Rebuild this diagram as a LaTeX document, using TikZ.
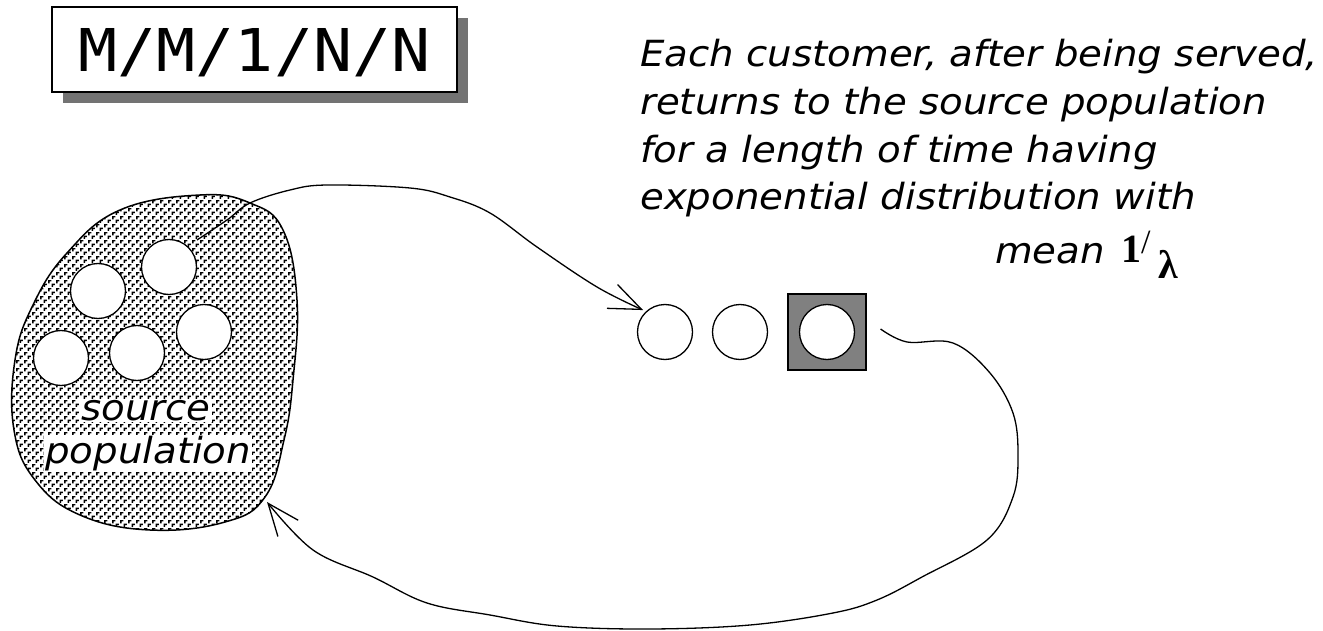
\documentclass[tikz,border=0pt]{standalone}
\usepackage{fontspec}
\setmainfont{DejaVu Sans}
\newfontfamily\dvs{DejaVu Sans}
\newfontfamily\dvm{DejaVu Sans Mono}
\newfontfamily\lser{Liberation Serif}
\usetikzlibrary{arrows.meta,patterns}
\pgfdeclarepatternformonly{blobmarks}{\pgfpointorigin}{\pgfqpoint{8pt}{8pt}}{\pgfqpoint{8pt}{8pt}}{%
  \pgfsetlinewidth{1.6pt}%
  \pgfpathmoveto{\pgfqpoint{1pt}{4.2pt}}\pgfpathlineto{\pgfqpoint{1pt}{7pt}}\pgfpathlineto{\pgfqpoint{3.8pt}{7pt}}%
  \pgfpathmoveto{\pgfqpoint{5pt}{0.2pt}}\pgfpathlineto{\pgfqpoint{5pt}{3pt}}\pgfpathlineto{\pgfqpoint{7.8pt}{3pt}}%
  \pgfusepath{stroke}}
\newcommand{\wide}[1]{\scalebox{1.075}[1]{#1}}
\begin{document}
\begin{tikzpicture}[x=1pt,y=-1pt,
  desc/.style={font=\dvs\itshape\fontsize{36}{36}\selectfont, anchor=base west, inner sep=0pt},
  cust/.style={circle, draw, line width=1.3pt, fill=white, minimum size=55pt, inner sep=0pt},
  flow/.style={line width=1.3pt, -{Straight Barb[length=32pt,width=26pt]}}]
\useasboundingbox (0,0) rectangle (1323,631);

% title box with shadow
\fill[black!55] (63,18) rectangle (468,103);
\node[draw, line width=2pt, fill=white, minimum width=405pt, minimum height=85pt, inner sep=0pt,
      text depth=0pt, font=\dvm\fontsize{59}{59}\selectfont] (title) at (254.5,50) {\scalebox{1.1}[1]{M/M/1/N/N}};

% source population blob
\draw[line width=1.5pt, pattern=blobmarks] plot[smooth cycle, tension=0.7] coordinates {
  (200,195) (250,203) (283,230) (297,300) (293,380) (284,440) (265,497) (225,522)
  (150,530) (80,515) (35,480) (14,430) (15,360) (33,305) (67,253) (120,210)};
\node[cust] (b1) at (98,291) {};
\node[cust] (b2) at (169,267) {};
\node[cust] (b3) at (204,332) {};
\node[cust] (b4) at (61,358) {};
\node[cust] (b5) at (137,353) {};
\node[desc, fill=white, inner sep=1pt] (src) at (80,420) {\wide{source}};
\node[desc, fill=white, inner sep=1pt] (pop) at (44,463) {\wide{population}};

% queue and server
\node[cust] (q1) at (665,332) {};
\node[cust] (q2) at (740,332) {};
\node[draw, line width=1.2pt, fill=black!50, minimum width=78pt, minimum height=76pt, inner sep=0pt] (srv) at (827,332) {};
\node[cust] (q3) at (827,332) {};

% connectors
\coordinate (out) at (197,240);
\coordinate (inq) at ([xshift=-2pt,yshift=2pt]q1.north west);
\draw[flow] plot[smooth, tension=0.6] coordinates {(out) (227,220) (250,203) (290,190) (327,185)
  (410,188) (450,197) (490,213) (537,247) (597,287) (inq)};
\coordinate (back) at ([xshift=14pt,yshift=3pt]srv.east);
\coordinate (inpop) at (267,502);
\draw[flow] plot[smooth, tension=0.6] coordinates {(back) (907,342) (953,343) (990,373) (1013,413)
  (1018,455) (1013,497) (987,540) (922,577) (877,600) (833,613) (750,625) (650,629) (557,626)
  (490,615) (427,603) (373,577) (313,550) (inpop)};

% description
\node[desc] (t1) at (640,67) {\wide{Each customer, after being served,}};
\node[desc] (t2) at (640,115) {\wide{returns to the source population}};
\node[desc] (t3) at (640,163) {\wide{for a length of time having}};
\node[desc] (t4) at (640,210) {\wide{exponential distribution with}};
\node[desc] (mean) at (995,263) {\wide{mean}};
\node[font=\lser\bfseries\fontsize{40}{40}\selectfont, anchor=base west, inner sep=0pt] (one) at (1121,262) {1};
\node[font=\lser\fontsize{34}{34}\selectfont, anchor=base west, inner sep=0pt] (sl) at (1141,254) {/};
\node[font=\lser\bfseries\fontsize{40}{40}\selectfont, anchor=base west, inner sep=0pt] (lam) at (1158,278) {λ};
\end{tikzpicture}
\end{document}
